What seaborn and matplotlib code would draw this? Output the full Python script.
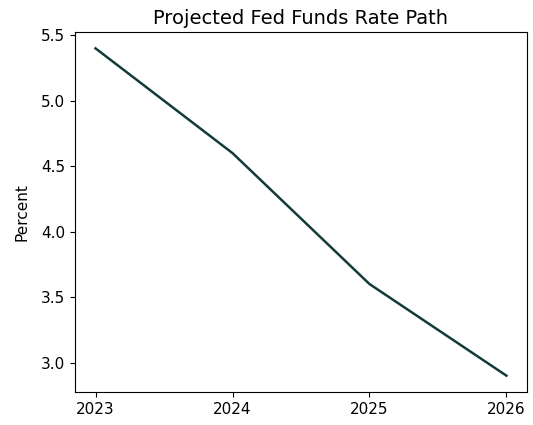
import matplotlib
matplotlib.use("Agg")
import matplotlib.pyplot as plt
import seaborn as sns
import pandas as pd

# Data
years = [2023, 2024, 2025, 2026]
rates = [5.4, 4.6, 3.6, 2.9]

df = pd.DataFrame({"Year": years, "Rate": rates})

plt.rcParams["font.size"] = 11

fig, ax = plt.subplots(figsize=(5.33, 4.25), dpi=100)
sns.lineplot(data=df, x="Year", y="Rate", color="#133b3a", linewidth=1.8, ax=ax)

ax.set_title("Projected Fed Funds Rate Path", fontsize=14)
ax.set_xlabel("")
ax.set_ylabel("Percent", fontsize=11, labelpad=8)
ax.set_xticks(years)
ax.set_xticklabels([str(y) for y in years])
ax.tick_params(labelsize=11)

fig.subplots_adjust(left=0.1407, right=0.9887, top=0.9247, bottom=0.0776)
fig.savefig("out.png", dpi=100)
